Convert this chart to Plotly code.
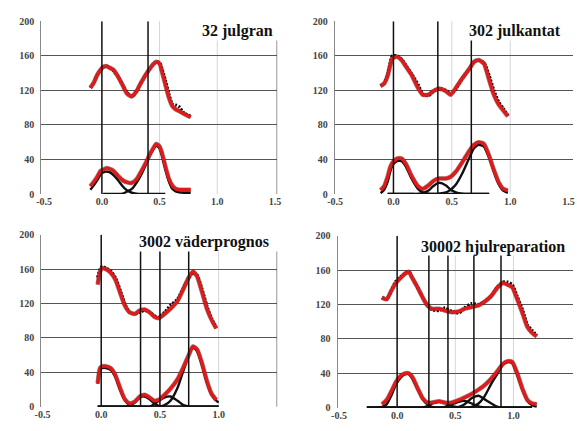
import plotly.graph_objects as go

W, H = 577, 431

# ---------------- data ----------------
x_tick_vals = [-0.5, 0.0, 0.5, 1.0, 1.5]
x_tick_labels = ["-0.5", "0.0", "0.5", "1.0", "1.5"]
y_tick_vals = [0, 40, 80, 120, 160, 200]
y_range = [0, 200]
light_grid_x = [0.5, 1.0]

# Panel 1
p1_title = "32 julgran"
p1_x = [-0.10, -0.07, -0.04, -0.01, 0.01, 0.04, 0.07, 0.10, 0.14, 0.18, 0.22, 0.26, 0.30, 0.34,
        0.38, 0.42, 0.45, 0.47, 0.50, 0.52, 0.55, 0.58, 0.61, 0.64, 0.67, 0.71, 0.77]
p1_upper_fit = [123, 129, 138, 144, 147, 148, 146, 144, 136, 126, 116, 113, 119, 129,
                138, 146, 151, 153, 151, 142, 127, 112, 102, 98, 96, 93, 89]
p1_upper_data = [123, 129, 138, 144, 147, 148, 146, 143, 136, 126, 117, 113, 119, 129,
                 138, 146, 151, 153, 152, 145, 132, 116, 104, 103, 101, 94, 90]
p1_lower_fit = [9, 14, 20, 27, 28, 30, 29, 27, 21, 16, 13.5, 13, 17, 26,
                36, 47, 54, 58, 55, 48, 32, 18, 10, 6, 5, 5, 5]
p1_comp_a = [5, 10, 16, 23, 25, 26, 25, 22, 16, 9, 4, 1.5, 0.5, 0,
             0, 0, 0, 0, 0, 0, 0, None, None, None, None, None, None]
p1_comp_b = [None, None, None, None, 0, 0, 0, 0, 0, 0.5, 3, 6, 13, 22,
             34, 46, 53, 56, 53, 45, 29, 15, 6, 3, 2, 1.5, 1.5]
p1_bounds = [0.0, 0.40]

# Panel 2
p2_title = "302 julkantat"
p2_x = [-0.11, -0.08, -0.05, -0.03, -0.01, 0.03, 0.07, 0.11, 0.155, 0.21, 0.25, 0.30, 0.34, 0.39,
        0.45, 0.49, 0.535, 0.59, 0.65, 0.69, 0.73, 0.775, 0.82, 0.86, 0.90, 0.94, 0.98]
p2_upper_fit = [125, 128, 137, 148, 157, 159, 155, 147, 138, 123, 115, 115, 119, 122,
                119, 115, 123, 134, 145, 153, 155, 151, 132, 115, 104, 97, 90]
p2_upper_data = [125, 128, 138, 150, 160, 160, 156, 148, 139, 127, 116, 114, 119, 122,
                 120, 116, 122, 134, 145, 153, 155, 152, 137, 120, 107, 99, 91]
p2_lower_fit = [4.5, 9, 20, 30, 36, 41, 41, 34, 21, 9, 6, 10, 15, 18,
                18, 20, 26, 37, 50, 57, 60, 58, 44, 28, 14, 6, 4]
p2_comp_a = [1, 5, 14, 25, 33, 38, 38, 31, 18, 6, 2, 0.5, 0, 0,
             0, 0, 0, 0, 0, 0, 0, 0, 0, None, None, None, None]
p2_comp_b = [None, None, 0, 0, 0, 0, 0, 0, 0, 0, 1, 4, 9, 13,
             10, 5, 2, 0.5, 0, 0, 0, 0, 0, None, None, None, None]
p2_comp_c = [None, None, 0, 0, 0, 0, 0, 0, 0, 0, 0, 0, 0, 0.5,
             2, 5, 11, 24, 42, 53, 57, 55, 42, 26, 12, 4, 1.5]
p2_bounds = [0.0, 0.38, 0.667]

# Panel 3
p3_title = "3002 väderprognos"
p3_x = [-0.03, -0.01, 0.01, 0.04, 0.08, 0.12, 0.16, 0.20, 0.24, 0.285, 0.33, 0.37, 0.41, 0.45,
        0.49, 0.54, 0.59, 0.65, 0.70, 0.745, 0.78, 0.815, 0.855, 0.90, 0.94, 0.98, 1.00]
p3_upper_fit = [142, 157, 161, 160, 156, 148, 133, 118, 110, 108, 112, 113, 110, 105,
                103, 108, 114, 123, 137, 150, 157, 152, 135, 114, 101, 91, None]
p3_upper_data = [150, 160, 163, 161, 158, 150, 136, 120, 110, 108, 110, 112, 110, 106,
                 104, 110, 118, 125, 138, 150, 156, 153, 138, 117, 102, 92, None]
p3_lower_fit = [27, 45, 47, 47, 45, 37, 22, 9, 4, 6, 12, 14, 11, 7,
                8, 14, 21, 32, 46, 60, 70, 67, 52, 30, 15, 8, None]
p3_comp_a = [27, 44, 45, 45, 43, 35, 20, 8, 2, 0.5, 0, 0, 0, 0,
             0, 0, 0, 0, 0, 0, 0, 0, 0, 0, 0, 0, 0]
p3_comp_b = [0, 0, 0, 0, 0, 0, 0, 0, 1, 5, 11, 12, 9, 4,
             1, 0, 0, 0, 0, 0, 0, 0, 0, 0, 0, 0, 0]
p3_comp_c = [0, 0, 0, 0, 0, 0, 0, 0, 0, 0, 0, 0, 0, 3,
             7, 11, 12, 7, 2, 0.5, 0, 0, 0, 0, 0, 0, 0]
p3_comp_d = [0, 0, 0, 0, 0, 0, 0, 0, 0, 0, 0, 0, 0, 0,
             0, 2, 7, 22, 42, 60, 69, 65, 50, 28, 14, 7, 5]
p3_bounds = [0.0, 0.335, 0.50, 0.745]

# Panel 4
p4_title = "30002 hjulreparation"
p4_x = [-0.26, -0.20, -0.13, -0.09, -0.05, -0.01, 0.03, 0.07, 0.10, 0.13, 0.175, 0.22, 0.26, 0.30,
        0.36, 0.41, 0.47, 0.53, 0.58, 0.64, 0.70, 0.75, 0.81, 0.865, 0.91, 0.95, 0.99, 1.03,
        1.08, 1.12, 1.16, 1.20]
p4_upper_fit = [None, None, 128, 126, 136, 145, 151, 156, 158, 151, 140, 128, 119, 115,
                115, 113, 111, 112, 115, 117, 119, 123, 130, 140, 145, 143, 140, 127,
                109, 94, 87, 83]
p4_upper_data = [None, None, 128, 126, 136, 147, 152, 156, 158, 151, 140, 128, 119, 114,
                 113, 116, 112, 110, 116, 121, 120, 123, 130, 141, 146, 146, 143, 130,
                 113, 96, 90, 84]
p4_lower_fit = [None, None, 4, 9, 19, 30, 37, 40, 40, 36, 23, 11, 6, 6,
                7.5, 6, 6, 9, 12, 16, 21, 26, 34, 43, 51, 54, 53, 41,
                21, 9, 5, 4]
p4_comp_a = [0, 0, 1, 4, 14, 27, 35, 39, 39, 34, 22, 10, 4, 1,
             0, 0, 0, 0, 0, 0, 0, 0, 0, 0, 0, 0, 0, 0,
             0, 0, 0, None]
p4_comp_b = [0, 0, 0, 0, 0, 0, 0, 0, 0, 0, 0, 0.5, 2, 5,
             7, 6, 2, 0.5, 0, 0, 0, 0, 0, 0, 0, 0, 0, 0,
             0, 0, 0, None]
p4_comp_c = [0, 0, 0, 0, 0, 0, 0, 0, 0, 0, 0, 0, 0, 0,
             0, 1, 4, 7, 8, 5, 1.5, 0.5, 0, 0, 0, 0, 0, 0,
             0, 0, 0, None]
p4_comp_d = [0, 0, 0, 0, 0, 0, 0, 0, 0, 0, 0, 0, 0, 0,
             0, 0, 0, 1, 4, 11, 14, 10, 5, 1, 0, 0, 0, 0,
             0, 0, 0, None]
p4_comp_e = [0, 0, 0, 0, 0, 0, 0, 0, 0, 0, 0, 0, 0, 0,
             0, 0, 0, 0, 0, 1, 5, 13, 28, 40, 50, 53, 52, 39,
             20, 8, 3, 1]
p4_bounds = [0.0, 0.273, 0.437, 0.66, 0.893]

panels = [
    dict(title=p1_title, x=p1_x, up_data=p1_upper_data, up_fit=p1_upper_fit,
         low_fit=p1_lower_fit, comps=[p1_comp_a, p1_comp_b], bounds=p1_bounds),
    dict(title=p2_title, x=p2_x, up_data=p2_upper_data, up_fit=p2_upper_fit,
         low_fit=p2_lower_fit, comps=[p2_comp_a, p2_comp_b, p2_comp_c], bounds=p2_bounds),
    dict(title=p3_title, x=p3_x, up_data=p3_upper_data, up_fit=p3_upper_fit,
         low_fit=p3_lower_fit, comps=[p3_comp_a, p3_comp_b, p3_comp_c, p3_comp_d], bounds=p3_bounds),
    dict(title=p4_title, x=p4_x, up_data=p4_upper_data, up_fit=p4_upper_fit,
         low_fit=p4_lower_fit, comps=[p4_comp_a, p4_comp_b, p4_comp_c, p4_comp_d, p4_comp_e],
         bounds=p4_bounds),
]

# ---------------- layout geometry (pixels) ----------------
geom = [
    dict(xpx=(35, 275), ypx=(16.7, 194), xr=(-0.525, 1.516), box=(191, 0, 290, 36.5),
         txy=(197, 27), border=True),
    dict(xpx=(334, 577), ypx=(16.7, 194), xr=(-0.504, 1.538), box=(460, 0, 577, 36.5),
         txy=(469, 27), border=False),
    dict(xpx=(35, 275), ypx=(235.7, 412.3), xr=(-0.51, 1.495), box=(125, 218, 290, 253),
         txy=(133, 243), border=True),
    dict(xpx=(337, 577), ypx=(236.7, 413.3), xr=(-0.512, 1.512), box=(412, 218, 577, 257),
         txy=(420, 248), border=False),
]

RED = "#e01a1a"
EDGE = "#2a0505"
BLACK = "#111111"
GRID = "#555555"
LIGHT = "#d6d6d6"
TICKFONT = dict(family="Liberation Serif", size=10, color="#444444", weight="bold")

def px2paper_x(v):
    return v / W

def px2paper_y(v):
    return 1 - v / H

fig = go.Figure()
shapes = []
annotations = []
layout_axes = {}

for i, (p, g) in enumerate(zip(panels, geom)):
    n = i + 1
    xa = "x" if n == 1 else f"x{n}"
    ya = "y" if n == 1 else f"y{n}"
    xkey = "xaxis" if n == 1 else f"xaxis{n}"
    ykey = "yaxis" if n == 1 else f"yaxis{n}"

    common = dict(xaxis=xa, yaxis=ya, showlegend=False, hoverinfo="skip")
    sp = dict(shape="spline", smoothing=0.6)

    # black measured data (dotted)
    fig.add_trace(go.Scatter(x=p["x"], y=p["up_data"], mode="lines",
                             line=dict(color=BLACK, width=3.2, dash="2px,1.5px", **sp), **common))
    # black fitted components (solid, the zero parts pile into a thick baseline)
    for c in p["comps"]:
        fig.add_trace(go.Scatter(x=p["x"], y=c, mode="lines",
                                 line=dict(color=BLACK, width=2.4, **sp), **common))
    # red fits with a thin dark edge
    for series in (p["up_fit"], p["low_fit"]):
        fig.add_trace(go.Scatter(x=p["x"], y=series, mode="lines",
                                 line=dict(color=EDGE, width=4.6, **sp), opacity=0.45, **common))
        fig.add_trace(go.Scatter(x=p["x"], y=series, mode="lines",
                                 line=dict(color=RED, width=3.4, **sp), **common))
    # segment boundaries
    for b in p["bounds"]:
        fig.add_trace(go.Scatter(x=[b, b], y=y_range, mode="lines",
                                 line=dict(color=BLACK, width=1.5), **common))

    x0, x1 = g["xpx"]
    y0, y1 = g["ypx"]
    layout_axes[xkey] = dict(
        domain=[px2paper_x(x0), px2paper_x(x1)], range=list(g["xr"]), anchor=ya,
        tickvals=x_tick_vals, ticktext=x_tick_labels, showgrid=False, zeroline=False,
        showline=False, ticks="", tickfont=TICKFONT, fixedrange=True,
    )
    layout_axes[ykey] = dict(
        domain=[px2paper_y(y1), px2paper_y(y0)], range=y_range, anchor=xa,
        tickvals=y_tick_vals, showgrid=True, gridcolor=GRID, gridwidth=1,
        zeroline=False, showline=True, linecolor="#888888", linewidth=1, ticks="",
        tickfont=TICKFONT, ticklabelstandoff=4, fixedrange=True,
    )

    for gx in light_grid_x:
        shapes.append(dict(type="line", xref=xa, yref=f"{ya} domain", x0=gx, x1=gx, y0=0, y1=1,
                           line=dict(color=LIGHT, width=1), layer="below"))
    if g["border"]:
        shapes.append(dict(type="line", xref=f"{xa} domain", yref=f"{ya} domain", x0=1, x1=1,
                           y0=0, y1=1, line=dict(color="#999999", width=1), layer="below"))

    bx0, by0, bx1, by1 = g["box"]
    shapes.append(dict(type="rect", xref="paper", yref="paper",
                       x0=px2paper_x(bx0), x1=px2paper_x(bx1),
                       y0=px2paper_y(by1), y1=px2paper_y(by0),
                       fillcolor="white", line=dict(width=0), layer="above"))
    tx, ty = g["txy"]
    annotations.append(dict(text=p["title"], xref="paper", yref="paper",
                            x=px2paper_x(tx), y=px2paper_y(ty), xanchor="left", yanchor="middle",
                            showarrow=False,
                            font=dict(family="Liberation Serif", size=16, color="#111111",
                                      weight="bold")))

fig.update_layout(
    width=W, height=H, margin=dict(l=0, r=0, t=0, b=0),
    paper_bgcolor="white", plot_bgcolor="white",
    shapes=shapes, annotations=annotations, **layout_axes,
)

fig.write_html("out.html")
